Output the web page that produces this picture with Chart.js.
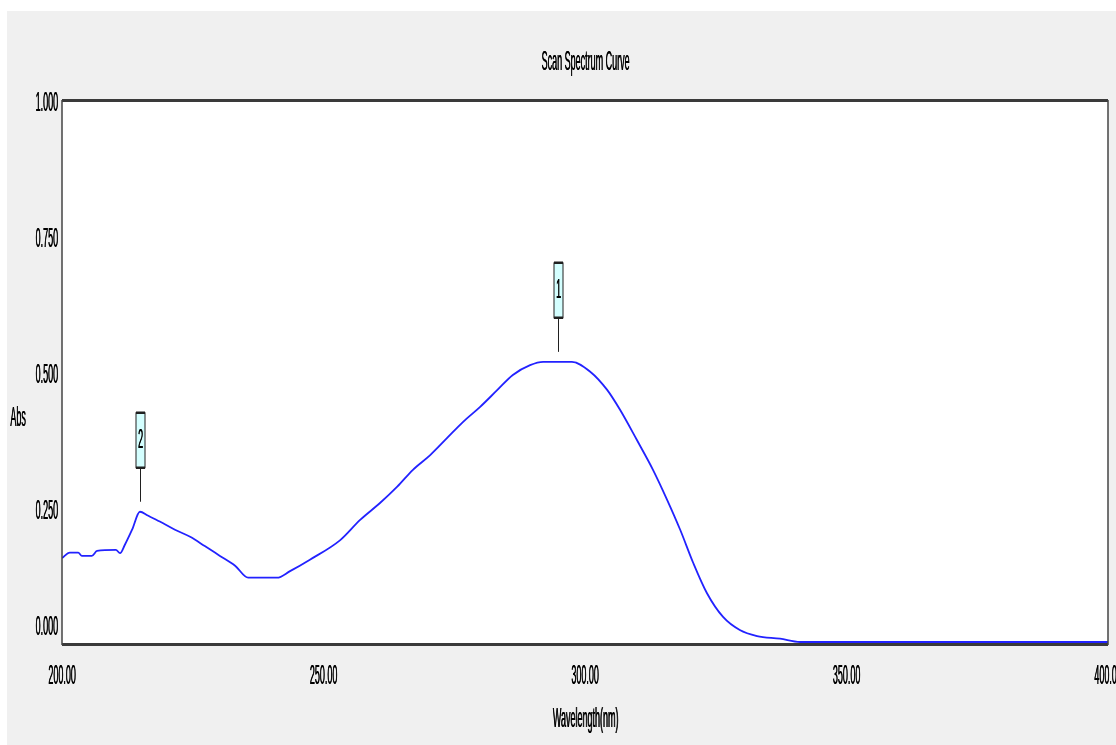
<!DOCTYPE html>
<html>
<head>
<meta charset="utf-8">
<title>Scan Spectrum Curve</title>
<script src="https://cdn.jsdelivr.net/npm/chart.js@4.4.1/dist/chart.umd.min.js"></script>
<style>
  html, body { margin: 0; padding: 0; background: #ffffff; }
  canvas { display: block; }
</style>
</head>
<body>
<canvas id="grafico" width="1116" height="745"></canvas>
<script>
// Datos (nm, Abs)
const longitudes = [200.0, 201.5, 203.1, 203.8, 205.7, 206.7, 210.3, 211.1, 212.0, 213.4,
  214.9, 216.4, 218.7, 221.6, 224.5, 227.3, 230.2, 233.1, 235.6, 241.1,
  243.6, 247.4, 253.2, 257.0, 260.8, 264.1, 267.1, 270.4, 273.6, 276.7,
  279.9, 283.2, 286.2, 289.5, 292.0, 295.2, 297.5, 301.0, 304.2, 306.7,
  309.9, 313.0, 315.7, 318.2, 320.7, 323.3, 326.4, 329.6, 332.9, 337.3,
  341.1, 400.0];
const absorbancias = [0.165, 0.175, 0.175, 0.169, 0.169, 0.178, 0.180, 0.174, 0.189, 0.217,
  0.250, 0.243, 0.232, 0.217, 0.204, 0.187, 0.169, 0.151, 0.129, 0.129,
  0.141, 0.162, 0.198, 0.235, 0.266, 0.296, 0.327, 0.354, 0.385, 0.415,
  0.442, 0.473, 0.501, 0.519, 0.525, 0.525, 0.525, 0.507, 0.474, 0.437,
  0.382, 0.327, 0.272, 0.217, 0.156, 0.101, 0.057, 0.033, 0.022, 0.017,
  0.011, 0.011];

// Picos marcados
const picosEtiquetas = ["1", "2"];
const picosLongitud = [294.8, 214.9];
const picosAbs = [0.525, 0.250];

// Marcas de los ejes
const ticksX = [200, 250, 300, 350, 400];
const ticksXTexto = ["200.00", "250.00", "300.00", "350.00", "400.00"];
const ticksY = [0, 0.25, 0.5, 0.75, 1];
const ticksYTexto = ["0.000", "0.250", "0.500", "0.750", "1.000"];

const titulo = "Scan Spectrum Curve";
const tituloX = "Wavelength(nm)";
const tituloY = "Abs";

const ESCALA_Y = 3.1;
const FUENTE = "9px 'Liberation Sans', Arial, sans-serif";

function texto(ctx, t, x, y, align) {
  ctx.save();
  ctx.translate(x, y);
  ctx.scale(1, ESCALA_Y);
  ctx.font = FUENTE;
  ctx.fillStyle = "#000000";
  ctx.textAlign = align;
  ctx.textBaseline = "middle";
  ctx.fillText(t, 0, 0);
  ctx.fillText(t, 0.35, 0); // un poco más oscuro
  ctx.restore();
}

const fondoPlugin = {
  id: "fondo",
  beforeDraw(chart) {
    const ctx = chart.ctx;
    const a = chart.chartArea;
    ctx.save();
    ctx.fillStyle = "#ffffff";
    ctx.fillRect(0, 0, chart.width, chart.height);
    ctx.fillStyle = "#f0f0f0";
    ctx.fillRect(7, 11, chart.width - 7, chart.height - 11);
    ctx.fillStyle = "#ffffff";
    ctx.fillRect(a.left, a.top, a.right - a.left, a.bottom - a.top);
    ctx.restore();
  }
};

const decoracionPlugin = {
  id: "decoracion",
  afterDatasetsDraw(chart) {
    const ctx = chart.ctx;
    const a = chart.chartArea;
    const sx = chart.scales.x;
    const sy = chart.scales.y;

    // Bordes del área
    ctx.save();
    ctx.strokeStyle = "#3a3a3a";
    ctx.lineWidth = 3;
    ctx.beginPath();
    ctx.moveTo(a.left, a.top + 0.5);
    ctx.lineTo(a.right, a.top + 0.5);
    ctx.moveTo(a.left, a.bottom - 0.5);
    ctx.lineTo(a.right, a.bottom - 0.5);
    ctx.stroke();
    ctx.lineWidth = 1.5;
    ctx.strokeStyle = "#444444";
    ctx.beginPath();
    ctx.moveTo(a.left, a.top);
    ctx.lineTo(a.left, a.bottom);
    ctx.moveTo(a.right, a.top);
    ctx.lineTo(a.right, a.bottom);
    ctx.stroke();
    ctx.restore();

    // Etiquetas de los ejes
    ticksY.forEach((v, i) => {
      const y = Math.min(sy.getPixelForValue(v), a.bottom - 18);
      texto(ctx, ticksYTexto[i], a.left - 4, y, "right");
    });
    ticksX.forEach((v, i) => {
      texto(ctx, ticksXTexto[i], sx.getPixelForValue(v), 676, "center");
    });
    texto(ctx, titulo, (a.left + a.right) / 2 + 0.5, 62, "center");
    texto(ctx, tituloX, (a.left + a.right) / 2 + 0.5, 719, "center");
    texto(ctx, tituloY, 18, 418, "center");

    // Marcadores de picos
    picosEtiquetas.forEach((et, i) => {
      const x = Math.round(sx.getPixelForValue(picosLongitud[i])) + 0.5;
      const y = sy.getPixelForValue(picosAbs[i]);
      const abajo = y - 44;
      const arriba = y - 99;
      ctx.save();
      ctx.strokeStyle = "#202020";
      ctx.lineWidth = 1;
      ctx.beginPath();
      ctx.moveTo(x, abajo);
      ctx.lineTo(x, y - 10);
      ctx.stroke();
      ctx.fillStyle = "#d4ffff";
      ctx.fillRect(x - 4.5, arriba, 9, abajo - arriba);
      ctx.strokeRect(x - 4.5, arriba, 9, abajo - arriba);
      ctx.lineWidth = 2.5;
      ctx.beginPath();
      ctx.moveTo(x - 4.5, arriba);
      ctx.lineTo(x + 4.5, arriba);
      ctx.moveTo(x - 4.5, abajo);
      ctx.lineTo(x + 4.5, abajo);
      ctx.stroke();
      ctx.restore();
      texto(ctx, et, x, (arriba + abajo) / 2, "center");
    });
  }
};

const puntos = longitudes.map((l, i) => ({ x: l, y: absorbancias[i] }));

const grafico = new Chart(document.getElementById("grafico").getContext("2d"), {
  type: "line",
  data: {
    datasets: [{
      label: "Abs",
      data: puntos,
      borderColor: "#2222ff",
      borderWidth: 1.8,
      pointRadius: 0,
      cubicInterpolationMode: "monotone",
      fill: false
    }]
  },
  options: {
    responsive: false,
    animation: false,
    devicePixelRatio: 1,
    layout: {
      padding: { left: 62, top: 100, right: 8, bottom: 100 }
    },
    plugins: {
      legend: { display: false },
      title: { display: false },
      tooltip: { enabled: false }
    },
    scales: {
      x: {
        type: "linear",
        min: 200,
        max: 400,
        grid: { display: false, drawTicks: false },
        border: { display: false },
        ticks: { display: false }
      },
      y: {
        type: "linear",
        min: 0.0055,
        max: 1.0055,
        grid: { display: false, drawTicks: false },
        border: { display: false },
        ticks: { display: false }
      }
    }
  },
  plugins: [fondoPlugin, decoracionPlugin]
});
</script>
</body>
</html>
